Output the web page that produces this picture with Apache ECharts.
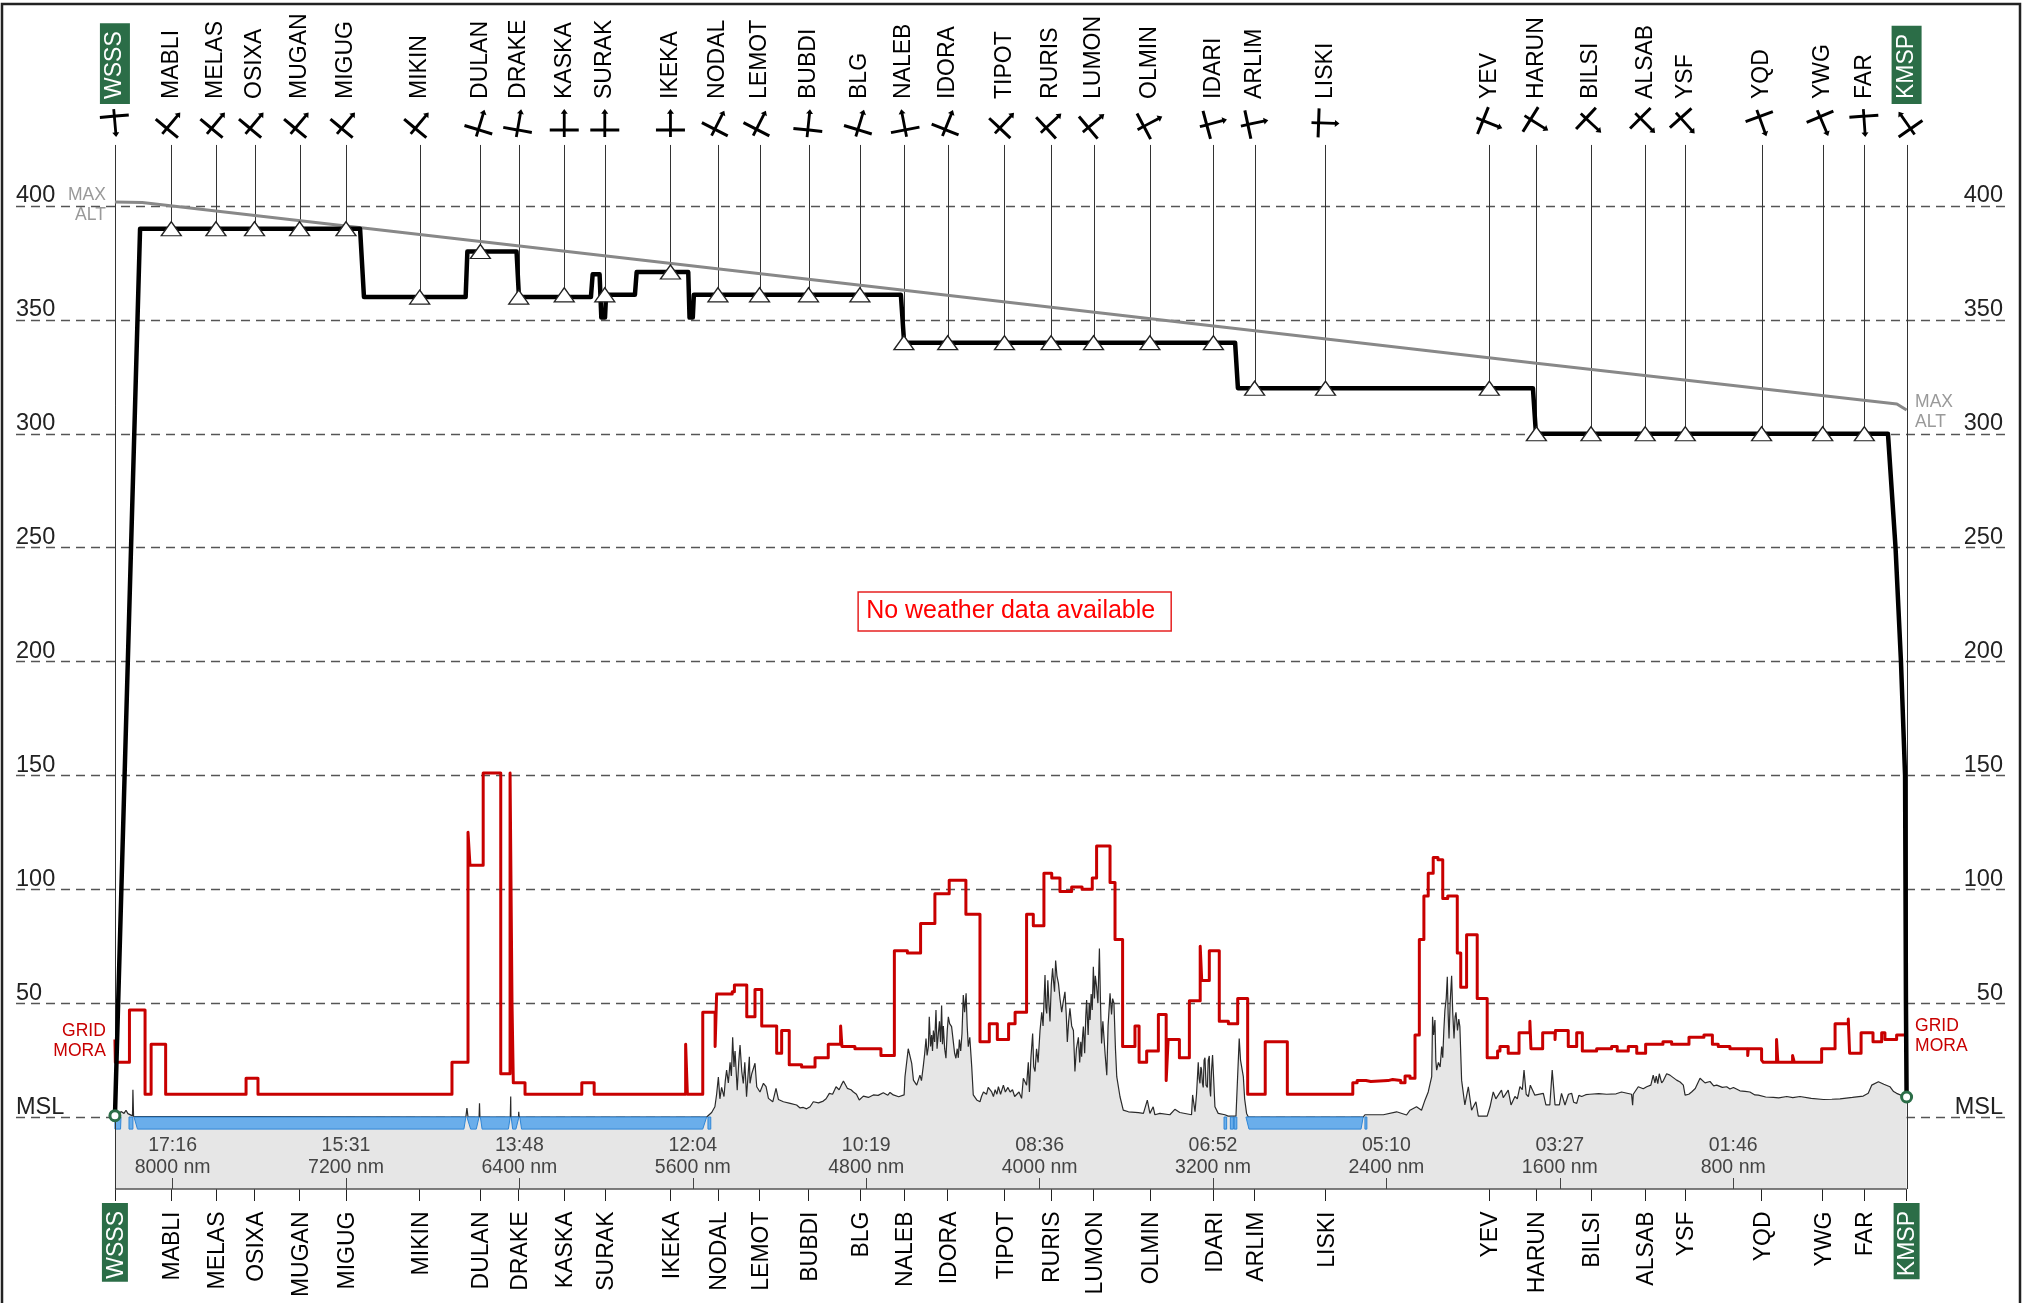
<!DOCTYPE html>
<html><head><meta charset="utf-8">
<script src="https://cdn.jsdelivr.net/npm/echarts@6/dist/echarts.min.js"></script>
<style>html,body{margin:0;padding:0;background:#fff}#c{width:2022px;height:1303px}</style>
</head><body><div id="c"></div>
<script>
const FONT='"Liberation Sans",Arial,sans-serif';
// Waypoints: distance remaining (nm), cruise altitude (FL), wind heading (deg)
const waypointNames=['WSSS','MABLI','MELAS','OSIXA','MUGAN','MIGUG','MIKIN','DULAN','DRAKE','KASKA','SURAK','IKEKA','NODAL','LEMOT','BUBDI','BLG','NALEB','IDORA','TIPOT','RURIS','LUMON','OLMIN','IDARI','ARLIM','LISKI','YEV','HARUN','BILSI','ALSAB','YSF','YQD','YWG','FAR','KMSP'];
const waypointDist=[8266,8006,7800,7622,7414,7200,6860,6580,6403,6193,6006,5703,5484,5292,5066,4829,4626,4424,4162,3947,3751,3491,3198,3008,2681,1925,1708,1456,1206,1021,669,387,195,0];
const waypointAlt=[-31.6,390,390,390,390,390,360,380,360,361,361,371,361,361,361,361,340,340,340,340,340,340,340,320,320,320,300,300,300,300,300,300,300,-31.6];
const windHeading=[175,40,40,40,40,40,40,17,10,0,0,0,27,27,6,17,-11,22,43,47,50,62,75,78,92,112,122,133,135,138,160,157,176,-35];
const distTicks=[8000,7200,6400,5600,4800,4000,3200,2400,1600,800];
const timeLabels=['17:16','15:31','13:48','12:04','10:19','08:36','06:52','05:10','03:27','01:46'];
const altTicks=[0,50,100,150,200,250,300,350,400];
// Flight profile [nm, FL]
const flightPath=[[8266,0],[8150,390],[7135,390],[7117,360],[6648,360],[6640,380],[6413,380],[6402,360],[6070,360],[6062,370],[6030,370],[6022,351],[6005,351],[6000,361],[5867,361],[5859,371],[5621,371],[5615,351],[5600,351],[5595,361],[4640,361],[4625,340],[3098,340],[3085,320],[1724,320],[1710,300],[86,300],[51,250],[26,200],[7,150],[3,50],[0,8.8]];
const maxAlt=[[8266,401.8],[8140,401.5],[6860,387.5],[4626,363],[1708,331],[45,313.1],[0,310.4]];
// Grid MORA: value holds from this distance until the next one
const mora=[[8266,34],[8264,24],[8199,47],[8127,10],[8099,32],[8032,10],[7661,17],[7606,10],[6711,24],[6637,125],[6628,110.6],[6567,151],[6486,19],[6443,151],[6434,50],[6428,15],[6374,10],[6112,15],[6055,10],[5633,32],[5625,10],[5554,46],[5497,31],[5490,54],[5418,55],[5408,58],[5351,44],[5313,56],[5282,40],[5213,28],[5190,38],[5155,23],[5098,22],[5036,26],[4975,32],[4918,40],[4912,31],[4852,30],[4732,27],[4670,73],[4610,72],[4549,85],[4483,98],[4417,104],[4340,89],[4275,33],[4232,41],[4195,34],[4143,41],[4113,46],[4060,89],[4029,84],[3980,107],[3944,105],[3906,99],[3852,101],[3804,100],[3757,105],[3737,119],[3675,103],[3652,78],[3617,31],[3560,40],[3541,24],[3506,29],[3452,45],[3416,16],[3407,34],[3355,26],[3309,51],[3259,75],[3252,60],[3217,73],[3171,42],[3129,41],[3086,52],[3040,10],[2959,33],[2857,10],[2555,15],[2535,16],[2494,15.6],[2472,16],[2393,16.5],[2371,16],[2334,15],[2314,18],[2291,17],[2268,36],[2248,78],[2227,97],[2207,107],[2184,114],[2162,113],[2140,96],[2117,97],[2073,72],[2057,57],[2030,80],[1981,52],[1935,26],[1887,29],[1876,31],[1838,28],[1788,37],[1738,42],[1733,30],[1679,37],[1622,34],[1620,38],[1561,31],[1522,37],[1496,29],[1430,30],[1361,31],[1335,29],[1284,31],[1245,28],[1204,32],[1124,33],[1084,32],[1004,35],[935,36],[896,32],[869,31],[815,30],[733,27],[730,30],[669,25],[661,24],[600,34],[594,24],[526,27],[518,24],[392,30],[330,41],[269,43],[263,28],[210,37],[155,33],[115,37],[100,34],[46,36],[0,36]];
// Terrain [nm, FL]
const terrain=[[8266,0.6],[8252,1],[8238,2.4],[8224,1.6],[8215,3],[8206,1.5],[8185,0.5],[8183,12],[8180,0.3],[8178,0],[6647,0],[6642,3.9],[6637,0],[6586,0],[6584,6],[6582,0],[6442,0],[6440,9],[6439,0],[6404,0],[6403,2.3],[6401,0],[5536,0],[5513,2],[5498,4.5],[5490,10],[5482,17.6],[5475,8],[5467,13],[5456,9],[5450,16],[5444,20.6],[5436,15],[5428,24],[5422,18],[5416,35],[5410,22],[5405,29],[5395,11.8],[5388,24],[5382,31.6],[5374,20],[5367,14.7],[5360,24],[5352,8.9],[5339,26.5],[5336,14.8],[5328,19],[5313,23.6],[5305,13.3],[5290,11],[5274,14.8],[5262,13.3],[5251,8.2],[5231,6.7],[5216,12.6],[5205,7.7],[5182,6.7],[5151,6],[5121,5.3],[5105,4],[5090,4.2],[5075,3.6],[5059,4.5],[5044,6.7],[5020,6.2],[4998,7],[4985,8],[4970,10.4],[4955,10],[4939,13.3],[4925,12],[4915,14],[4905,15.8],[4887,12.6],[4870,12],[4859,11],[4845,10],[4832,7.5],[4813,9.2],[4790,8.6],[4767,9.7],[4745,9.5],[4721,10.7],[4700,9.6],[4690,10.8],[4675,9.7],[4650,8.9],[4625,9.7],[4621,17.7],[4606,30],[4590,23.6],[4582,16.2],[4567,14],[4552,18.4],[4545,16],[4536,22.8],[4530,28],[4524,34.5],[4519,27],[4513,30.9],[4509,44],[4503,31],[4498,36],[4494,29],[4490,38],[4484,33],[4478,47],[4473,30],[4467,36.7],[4462,42],[4457,33],[4452,49],[4448,32],[4444,40],[4438,30],[4432,25.8],[4426,38],[4421,44],[4415,41],[4406,39.7],[4398,33],[4392,28],[4386,25.8],[4380,30],[4375,26],[4370,34],[4364,29],[4358,36.7],[4352,53.6],[4346,46],[4339,54.3],[4334,40],[4329,30.9],[4322,35],[4313,22],[4306,9.7],[4290,7.5],[4275,6.7],[4268,9],[4259,11],[4245,10],[4237,13],[4229,13.3],[4221,11],[4213,9],[4205,12],[4197,10],[4190,13.3],[4180,10],[4167,14],[4158,11],[4146,13],[4136,11],[4125,12],[4115,9],[4106,9],[4095,11],[4083,8.2],[4075,17],[4060,14],[4052,24],[4047,11],[4040,26],[4032,36.7],[4027,22],[4021,20],[4014,30],[4007,24],[3998,38],[3990,46],[3984,40],[3979,52],[3975,62.3],[3971,48],[3967,45.5],[3962,60],[3957,50],[3952,42],[3946,58],[3940,65.3],[3936,60],[3931,55],[3926,68.7],[3920,62],[3913,58.7],[3906,52],[3898,46],[3892,50],[3883,55],[3877,45],[3872,33],[3866,42],[3860,47.7],[3852,40],[3844,38],[3840,28],[3837,20],[3830,30],[3821,35],[3815,24],[3810,33],[3806,26.5],[3802,35],[3798,39.7],[3792,28],[3787,44],[3783,51.4],[3776,36],[3771,50],[3767,42.6],[3762,54],[3757,47],[3752,66],[3747,52],[3743,62],[3737,57.2],[3731,50],[3724,74],[3719,50],[3714,32.3],[3708,42],[3703,35],[3698,28],[3690,18.4],[3684,40],[3675,54.3],[3668,45],[3663,52],[3657,50],[3650,30],[3644,17.7],[3629,8.9],[3614,3],[3590,2.3],[3544,1.9],[3521,1.6],[3503,7.4],[3491,1.6],[3476,4.5],[3468,1],[3445,1.6],[3399,1],[3376,3.4],[3353,2],[3299,1],[3294,9.7],[3283,2.3],[3276,10],[3268,24],[3264,17],[3260,14.8],[3256,22],[3253,21],[3249,15],[3245,13],[3241,25],[3237,26],[3232,14],[3226,13],[3222,25],[3217,26.8],[3214,12],[3211,9],[3207,20],[3202,27.2],[3191,4.5],[3176,1.6],[3145,1],[3130,0.4],[3094,0.4],[3079,34.5],[3073,25],[3060,17.7],[3054,8],[3045,1.6],[3037,0],[2507,0],[2499,1],[2414,1],[2353,2.3],[2307,0.9],[2291,3],[2261,4.5],[2238,3],[2222,7.4],[2207,11],[2191,17.7],[2189,30],[2187,44],[2182,36],[2176,42.6],[2172,25],[2168,20.6],[2160,24],[2152,22],[2145,30.9],[2140,26],[2135,38],[2130,47],[2124,52],[2119,61.6],[2115,45],[2111,34.5],[2106,50],[2099,62],[2094,46],[2088,34.5],[2083,44],[2079,46],[2072,38],[2066,43],[2061,39.7],[2053,16.2],[2038,5.3],[2022,13.3],[2007,3],[1987,6.7],[1976,0.4],[1935,0.4],[1922,4.5],[1907,11],[1895,8],[1884,9.6],[1869,11.8],[1861,8.5],[1853,9.6],[1838,11.8],[1825,5.3],[1807,9],[1796,8],[1784,13.3],[1773,12],[1765,20.6],[1761,20.6],[1755,10],[1745,9],[1736,14],[1730,14],[1715,9.6],[1676,10.4],[1664,5.3],[1646,5.3],[1635,20.6],[1622,5.3],[1602,5.3],[1592,10.4],[1584,10.4],[1576,5.3],[1569,5.3],[1560,10],[1545,10.4],[1536,6.5],[1522,6],[1512,9.5],[1499,9],[1480,9.8],[1461,10],[1420,10.3],[1384,10],[1340,10.2],[1315,11],[1269,10],[1264,5.2],[1261,10],[1238,13.3],[1215,12.4],[1199,13.3],[1180,14],[1169,18.4],[1161,15],[1155,18],[1148,14.7],[1141,19],[1130,15],[1122,16],[1107,19],[1092,18.4],[1061,16.2],[1045,15.4],[1030,14],[1022,9.6],[1005,10],[992,11],[975,12.5],[953,17],[930,15],[907,15.6],[890,13.7],[876,14],[850,13],[830,13.3],[815,12.3],[799,13],[769,11.5],[745,11.3],[723,11],[700,9.7],[684,9.6],[650,8.8],[615,8.6],[590,8.4],[553,9],[525,8.5],[492,9],[440,8.2],[384,7.7],[345,7.8],[307,8],[250,8.6],[200,9.2],[177,10.4],[161,14],[130,15.5],[105,14.4],[77,13.3],[60,11.2],[46,10.4],[0,8.6]];
// Water bands: [top start, top end, bottom start, bottom end] in nm
const water=[[8266,8238,8266,8240],[8201,8183,8201,8183],[8178,6647,8162,6656],[6642,6586,6625,6599],[6580,6442,6572,6451],[6438,6402,6431,6416],[6398,5536,6390,5554],[5530,5517,5530,5517],[3149,3137,3149,3137],[3120,3106,3120,3106],[3102,3090,3102,3090],[3048,2507,3034,2517],[2499,2490,2499,2490]];
const endpoints=[[8266,0.6],[0,8.8]];
const X_MIN=-458.6,X_MAX=8722.4,Y_MIN=-31.6,Y_MAX=486.06;
const planePath='path://M14.5 0L18 4.6L15.9 4.6L15.9 19.4L29 19.4L29 22.4L15.9 22.4L15.9 28L13.1 28L13.1 22.4L0 22.4L0 19.4L13.1 19.4L13.1 4.6L11 4.6Z';
const isAirport=n=>n==='WSSS'||n==='KMSP';
const nameStyle={fontFamily:FONT,fontSize:23,color:'#000'};
const gStyle={fontFamily:FONT,fontSize:23,color:'#fff',backgroundColor:'#2b6d47',lineHeight:26};
const chart=echarts.init(document.getElementById('c'),null,{renderer:'canvas'});
chart.setOption({
 animation:false,backgroundColor:'#fff',
 grid:{left:16,right:16,top:10,bottom:114,containLabel:false},
 graphic:[{type:'polyline',z:100,shape:{points:[[2,1303],[2,4],[2020,4],[2020,1303]]},style:{stroke:'#222',lineWidth:2.5,fill:null}}],
 xAxis:[
  {type:'value',min:X_MIN,max:X_MAX,inverse:true,position:'bottom',splitLine:{show:false},
   axisLine:{show:false,onZero:false},
   axisTick:{show:true,customValues:waypointDist,length:12,lineStyle:{color:'#222',width:1}},
   axisLabel:{show:true,customValues:waypointDist,rotate:90,margin:14,fontFamily:FONT,fontSize:23,color:'#000',
    formatter:v=>{const n=waypointNames[waypointDist.indexOf(v)];return isAirport(n)?'{g|'+n+'}':'{n|'+n+'}';},
    rich:{n:{...nameStyle,padding:[3.5,8.5,0,0]},g:{...gStyle,padding:[3,8,0,3]}}}},
  {type:'value',min:X_MIN,max:X_MAX,inverse:true,position:'bottom',splitLine:{show:false},z:20,
   axisLine:{show:false,onZero:false},
   axisTick:{show:true,inside:true,customValues:distTicks,length:11,lineStyle:{color:'#444',width:1}},
   axisLabel:{show:true,inside:true,customValues:distTicks,margin:10,fontFamily:FONT,fontSize:19.5,lineHeight:22,color:'#444',
    formatter:v=>timeLabels[distTicks.indexOf(v)]+'\n'+v+' nm'}}
 ],
 yAxis:[0,1].map(i=>({type:'value',min:Y_MIN,max:Y_MAX,position:i?'right':'left',
   axisLine:{show:false,onZero:false},
   axisTick:{show:false,customValues:altTicks},
   splitLine:{show:i===0,lineStyle:{color:'#555',width:1.3,type:[9,6]}},
   axisLabel:{show:true,inside:true,customValues:altTicks,margin:i?3:0,fontFamily:FONT,fontSize:23.5,lineHeight:20,color:'#222',verticalAlign:'bottom',
    formatter:v=>v===0?'MSL':String(v)}})),
 series:[
  {name:'Terrain',type:'line',data:terrain,showSymbol:false,symbol:'none',z:2,clip:true,
   lineStyle:{color:'#2a2a2a',width:1.2},areaStyle:{color:'#e6e6e6',opacity:1,origin:'start'}},
  {name:'Water',type:'custom',z:3,data:water,encode:{x:[0,1,2,3]},
   renderItem:(p,api)=>{const t=-5.3;
    const pts=[api.coord([api.value(0),0]),api.coord([api.value(1),0]),api.coord([api.value(3),t]),api.coord([api.value(2),t])];
    return{type:'polygon',shape:{points:pts},style:{fill:'#6aaeeb',stroke:'#2f86d6',lineWidth:1}};}},
  {name:'Base',type:'line',z:4,symbol:'none',clip:false,data:[[waypointDist[0],Y_MIN],[0,Y_MIN]],lineStyle:{color:'#555',width:1.5}},
  {name:'Leaders',type:'custom',z:5,clip:false,data:waypointDist.map((d,i)=>[d,waypointAlt[i]]),encode:{x:0,y:1},
   renderItem:(p,api)=>{const a=api.coord([api.value(0),426.8]),b=api.coord([api.value(0),api.value(1)]),x=Math.round(a[0])+0.5;
    return{type:'line',shape:{x1:x,y1:a[1],x2:x,y2:b[1]},style:{stroke:'#333',lineWidth:1}};}},
  {name:'Max alt',type:'line',z:6,data:maxAlt,symbol:'none',lineStyle:{color:'#888',width:3}},
  {name:'Grid MORA',type:'line',z:7,data:mora,symbol:'none',step:'end',lineStyle:{color:'#c80000',width:3,join:'round'}},
  {name:'Flight',type:'line',z:8,data:flightPath,symbol:'none',lineStyle:{color:'#000',width:4.5,join:'round'}},
  {name:'Waypoints',type:'scatter',z:9,symbol:'triangle',symbolSize:[20,14],
   data:waypointDist.map((d,i)=>[d,waypointAlt[i]]).slice(1,-1),
   itemStyle:{color:'#fff',borderColor:'#222',borderWidth:1.3,opacity:1}},
  {name:'Ends',type:'scatter',z:10,symbol:'circle',symbolSize:10,data:endpoints,
   itemStyle:{color:'#fff',borderColor:'#2b6d47',borderWidth:3,opacity:1}},
  {name:'Wind',type:'scatter',z:9,silent:true,itemStyle:{opacity:1,color:'#000'},
   data:waypointDist.map((d,i)=>({value:[d,436.4],symbol:planePath,symbolSize:[29,28],symbolRotate:-windHeading[i]}))},
  {name:'Top names',type:'scatter',z:11,symbolSize:0,itemStyle:{opacity:1},
   data:waypointDist.map((d,i)=>{const n=waypointNames[i],a=isAirport(n);
    return{value:[d,444.8],label:{show:true,position:'inside',rotate:90,align:'left',verticalAlign:'middle',formatter:n,
     fontFamily:FONT,fontSize:23,color:a?'#fff':'#000',backgroundColor:a?'#2b6d47':'transparent',
     padding:a?[5,8,2,5]:[6,0,0,5]}};})},
  {name:'Notes',type:'scatter',z:11,symbolSize:0,itemStyle:{opacity:1},
   data:[
    {value:[8308,400.4],label:{show:true,position:'inside',formatter:'MAX\nALT',align:'right',verticalAlign:'middle',lineHeight:20,fontFamily:FONT,fontSize:17.5,color:'#999'}},
    {value:[-39,309.5],label:{show:true,position:'inside',formatter:'MAX\nALT',align:'left',verticalAlign:'middle',lineHeight:20,fontFamily:FONT,fontSize:17.5,color:'#999'}},
    {value:[8308,33.1],label:{show:true,position:'inside',formatter:'GRID\nMORA',align:'right',verticalAlign:'middle',lineHeight:20,fontFamily:FONT,fontSize:17.5,color:'#c80000'}},
    {value:[-39,35.3],label:{show:true,position:'inside',formatter:'GRID\nMORA',align:'left',verticalAlign:'middle',lineHeight:20,fontFamily:FONT,fontSize:17.5,color:'#c80000'}},
    {value:[4115,222],label:{show:true,position:'inside',formatter:'No weather data available',align:'center',verticalAlign:'middle',fontFamily:FONT,fontSize:25,color:'#f00',borderColor:'#e62222',borderWidth:1.5,padding:[7,16,7,8]}}
   ]}
 ]
});
</script></body></html>
